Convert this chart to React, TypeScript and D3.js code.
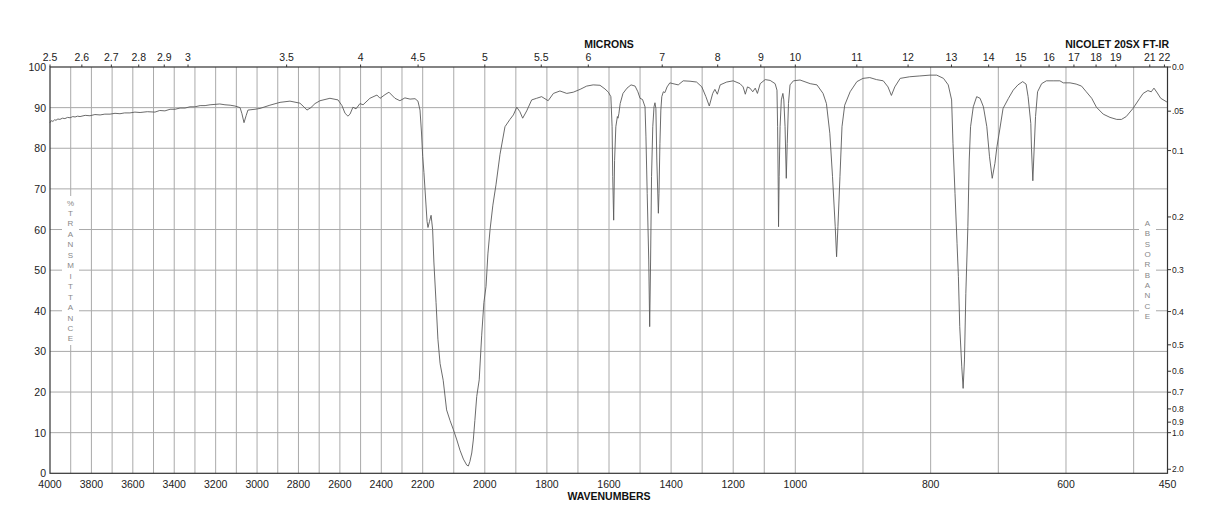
import React from 'react';
import { scaleLinear, line } from 'd3';

// wavenumber (cm-1) of each sampled point
const wavenumbers = [
  4000, 3993, 3986, 3978, 3971, 3962, 3952, 3940, 3928, 3915, 3903, 3890, 3879, 3867, 3855, 3830, 3807, 3783, 3758, 3735,
  3710, 3686, 3662, 3640, 3614, 3590, 3565, 3530, 3493, 3470, 3445, 3420, 3396, 3372, 3348, 3324, 3300, 3275, 3251, 3227,
  3203, 3180, 3155, 3130, 3107, 3082, 3073, 3063, 3053, 3044, 3010, 2986, 2938, 2889, 2841, 2793, 2774, 2759, 2740, 2720,
  2696, 2648, 2609, 2590, 2575, 2561, 2551, 2537, 2522, 2503, 2488, 2455, 2421, 2406, 2382, 2363, 2334, 2310, 2286, 2261,
  2237, 2223, 2213, 2206, 2200, 2196, 2191, 2186, 2183, 2178, 2173, 2168, 2164, 2157, 2151, 2144, 2134, 2123, 2112, 2101,
  2090, 2080, 2069, 2058, 2053, 2048, 2042, 2037, 2032, 2026, 2018, 2010, 2003, 1996, 1990, 1983, 1974, 1964, 1951, 1935,
  1919, 1908, 1897, 1887, 1878, 1865, 1849, 1833, 1817, 1796, 1779, 1758, 1736, 1715, 1693, 1672, 1651, 1629, 1613, 1602,
  1594, 1590, 1588, 1585, 1582, 1578, 1573, 1571, 1568, 1564, 1555, 1542, 1529, 1516, 1507, 1500, 1492, 1484, 1481, 1477,
  1472, 1469, 1466, 1463, 1459, 1455, 1452, 1449, 1446, 1441, 1439, 1436, 1433, 1430, 1425, 1420, 1413, 1404, 1394, 1377,
  1361, 1339, 1318, 1301, 1288, 1277, 1266, 1259, 1251, 1242, 1221, 1200, 1178, 1168, 1161, 1154, 1146, 1137, 1129, 1122,
  1113, 1097, 1081, 1065, 1059, 1057, 1055, 1054, 1052, 1049, 1045, 1040, 1037, 1033, 1029, 1026, 1022, 1017, 1006, 993,
  978, 968, 959, 954, 949, 945, 941, 939, 937, 934, 931, 927, 919, 909, 900, 890, 880, 870, 863, 858,
  853, 845, 831, 816, 801, 791, 781, 774, 769, 767, 764, 761, 759, 757, 754, 752, 750, 748, 745, 743,
  741, 737, 732, 727, 722, 717, 713, 709, 705, 702, 698, 693, 685, 678, 671, 664, 659, 656, 652, 651,
  649, 647, 645, 642, 636, 629, 619, 609, 604, 594, 585, 577, 570, 562, 555, 545, 535, 525, 518, 511,
  501, 491, 486, 479, 474, 470, 465, 460, 452, 450,
];

// % transmittance at each wavenumber
const transmittance = [
  86.3, 86.8, 86.6, 87.0, 86.9, 87.2, 87.1, 87.4, 87.3, 87.6, 87.5, 87.8, 87.7, 87.9, 87.8, 88.1, 88.0, 88.3, 88.2, 88.4,
  88.4, 88.6, 88.5, 88.7, 88.7, 88.9, 88.8, 89.0, 88.9, 89.3, 89.2, 89.6, 89.6, 89.9, 89.9, 90.2, 90.2, 90.5, 90.5, 90.7,
  90.8, 90.9, 90.7, 90.6, 90.4, 90.0, 88.5, 86.3, 88.0, 89.4, 89.6, 89.8, 90.6, 91.3, 91.6, 91.1, 90.2, 89.4, 90.0, 91.0,
  91.7, 92.3, 91.9, 90.5, 88.6, 87.9, 88.4, 90.1, 89.7, 91.0, 90.7, 92.3, 93.1, 92.3, 93.2, 93.8, 92.3, 91.7, 92.4, 92.1,
  92.2, 91.6, 89.4, 84.0, 78.0, 74.0, 68.0, 62.0, 60.5, 62.0, 63.5, 60.0, 52.0, 42.0, 33.0, 27.0, 22.9, 15.6, 13.0, 10.7,
  8.2, 5.7, 3.5, 2.0, 1.8, 2.9, 5.0, 8.2, 13.0, 18.9, 23.0, 34.0, 42.0, 46.0, 54.0, 60.0, 66.0, 71.0, 78.5, 85.3,
  87.1, 88.2, 90.1, 89.0, 87.4, 89.2, 91.9, 92.3, 92.7, 91.7, 93.5, 94.1, 93.5, 93.8, 94.5, 95.3, 95.6, 95.5, 94.6, 93.8,
  92.7, 85.3, 73.0, 62.3, 77.0, 85.3, 87.8, 87.4, 88.6, 91.0, 93.5, 94.8, 95.6, 95.3, 93.9, 92.3, 92.0, 90.2, 82.8, 68.9,
  52.5, 36.1, 52.5, 73.0, 85.3, 90.2, 91.2, 89.8, 77.1, 64.0, 68.9, 81.2, 89.4, 92.7, 93.9, 93.7, 95.1, 96.1, 95.9, 95.6,
  96.6, 96.5, 96.3, 95.1, 92.7, 90.4, 93.5, 94.5, 93.3, 95.6, 96.3, 96.6, 95.9, 95.1, 93.3, 95.1, 94.8, 93.9, 94.8, 93.5,
  95.9, 96.9, 96.7, 95.9, 94.3, 85.3, 70.5, 60.7, 73.0, 85.3, 91.9, 93.5, 91.9, 85.3, 72.6, 81.2, 91.0, 95.6, 96.6, 96.8,
  95.9, 95.6, 93.5, 91.0, 83.7, 73.0, 60.7, 53.3, 60.7, 73.0, 85.3, 90.6, 93.9, 96.4, 97.2, 97.4, 96.9, 96.6, 95.1, 93.0,
  95.1, 97.2, 97.6, 97.8, 98.0, 98.0, 97.2, 95.6, 91.9, 81.2, 68.9, 56.6, 48.4, 36.1, 26.2, 20.9, 27.9, 44.3, 60.7, 77.1,
  85.3, 90.2, 92.7, 92.3, 90.2, 85.3, 77.9, 72.6, 76.3, 80.4, 84.5, 89.8, 92.3, 94.3, 95.6, 96.4, 95.8, 92.7, 86.1, 80.0,
  72.0, 80.0, 87.8, 93.9, 95.9, 96.6, 96.6, 96.6, 96.1, 96.1, 95.8, 95.3, 93.9, 92.3, 90.1, 88.4, 87.6, 87.1, 87.1, 87.8,
  89.8, 92.3, 93.5, 94.2, 93.9, 94.8, 93.6, 92.3, 91.5, 91.3,
];

const leftTicks = [0, 10, 20, 30, 40, 50, 60, 70, 80, 90, 100];
const bottomTicks = [4000, 3800, 3600, 3400, 3200, 3000, 2800, 2600, 2400, 2200, 2000, 1800, 1600, 1400, 1200, 1000, 800, 600, 450];
const gridWavenumbers = [3900, 3800, 3700, 3600, 3500, 3400, 3300, 3200, 3100, 3000, 2900, 2800, 2700, 2600, 2500, 2400, 2300, 2200, 2100, 2000,
  1900, 1800, 1700, 1600, 1500, 1400, 1300, 1200, 1100, 1000, 900, 800, 700, 600, 500];
const microns = ['2.5', '2.6', '2.7', '2.8', '2.9', '3', '3.5', '4', '4.5', '5', '5.5', '6', '7', '8', '9', '10', '11', '12', '13', '14', '15', '16', '17', '18', '19', '21', '22'];
const absorbance = ['0.0', '.05', '0.1', '0.2', '0.3', '0.4', '0.5', '0.6', '0.7', '0.8', '0.9', '1.0', '2.0'];

const FONT = 'Liberation Sans, Arial, Helvetica, sans-serif';

export default function App() {
  const width = 1218;
  const height = 528;

  // the chart uses three linear pieces: 4000-2200, 2200-1000, 1000-450
  const x = scaleLinear().domain([4000, 2200, 1000, 450]).range([50, 422.7, 795.3, 1167.5]);
  const y = scaleLinear().domain([0, 100]).range([473.3, 67]);

  const data = wavenumbers.map((w, i) => ({ w, t: transmittance[i] }));
  const path = line<{ w: number; t: number }>()
    .x(d => x(d.w))
    .y(d => y(d.t))(data);

  const left = x(4000);
  const right = x(450);
  const top = y(100);
  const bottom = y(0);

  const transLetters = '%TRANSMITTANCE'.split('');
  const absLetters = 'ABSORBANCE'.split('');

  return (
    <svg width={width} height={height} style={{ position: 'absolute', left: 0, top: 0, background: '#fff' }} fontFamily={FONT}>
      {/* grid */}
      {gridWavenumbers.map(w => (
        <line key={'gx' + w} x1={x(w)} x2={x(w)} y1={top} y2={bottom} stroke="#aaa" strokeWidth={1} />
      ))}
      {leftTicks.slice(1, -1).map(t => (
        <line key={'gy' + t} x1={left} x2={right} y1={y(t)} y2={y(t)} stroke="#aaa" strokeWidth={1} />
      ))}

      {/* side captions with white backing */}
      <rect x={62} y={196} width={17} height={149} fill="#fff" />
      {transLetters.map((c, i) => (
        <text key={'tl' + i} x={70.5} y={203 + i * 10.46} fontSize={8} fill="#888" textAnchor="middle" dominantBaseline="central">{c}</text>
      ))}
      <rect x={1139} y={216} width={17} height={108} fill="#fff" />
      {absLetters.map((c, i) => (
        <text key={'al' + i} x={1147.5} y={223.3 + i * 10.38} fontSize={8} fill="#888" textAnchor="middle" dominantBaseline="central">{c}</text>
      ))}

      {/* spectrum */}
      <path d={path || ''} fill="none" stroke="#5a5a5a" strokeWidth={0.9} strokeLinejoin="round" />

      {/* frame */}
      <rect x={left} y={top} width={right - left} height={bottom - top} fill="none" stroke="#333" strokeWidth={1.2} />

      {/* left axis */}
      {leftTicks.map(t => (
        <text key={'lt' + t} x={46} y={y(t)} fontSize={10.5} fill="#222" textAnchor="end" dominantBaseline="central">{t}</text>
      ))}

      {/* bottom axis */}
      {bottomTicks.map(w => (
        <text key={'bt' + w} x={x(w)} y={484} fontSize={10.5} fill="#222" textAnchor="middle" dominantBaseline="central">{w}</text>
      ))}
      <text x={609} y={496} fontSize={10.5} fontWeight="bold" fill="#111" textAnchor="middle" dominantBaseline="central">WAVENUMBERS</text>

      {/* top micron axis */}
      {microns.map(m => (
        <g key={'mt' + m}>
          <line x1={x(10000 / +m)} x2={x(10000 / +m)} y1={top} y2={top - 2.5} stroke="#333" strokeWidth={1} />
          <text x={x(10000 / +m)} y={57} fontSize={10.5} fill="#222" textAnchor="middle" dominantBaseline="central">{m}</text>
        </g>
      ))}
      <text x={609} y={44} fontSize={10.5} fontWeight="bold" fill="#111" textAnchor="middle" dominantBaseline="central">MICRONS</text>
      <text x={1169} y={44} fontSize={10.5} fontWeight="bold" fill="#111" textAnchor="end" dominantBaseline="central">NICOLET 20SX FT-IR</text>

      {/* right absorbance axis */}
      {absorbance.map(a => {
        const yy = y(100 * Math.pow(10, -parseFloat(a)));
        return (
          <g key={'ab' + a}>
            <line x1={right} x2={right + 3.5} y1={yy} y2={yy} stroke="#333" strokeWidth={1} />
            <text x={1172} y={yy} fontSize={8.5} fill="#222" dominantBaseline="central">{a}</text>
          </g>
        );
      })}
    </svg>
  );
}
